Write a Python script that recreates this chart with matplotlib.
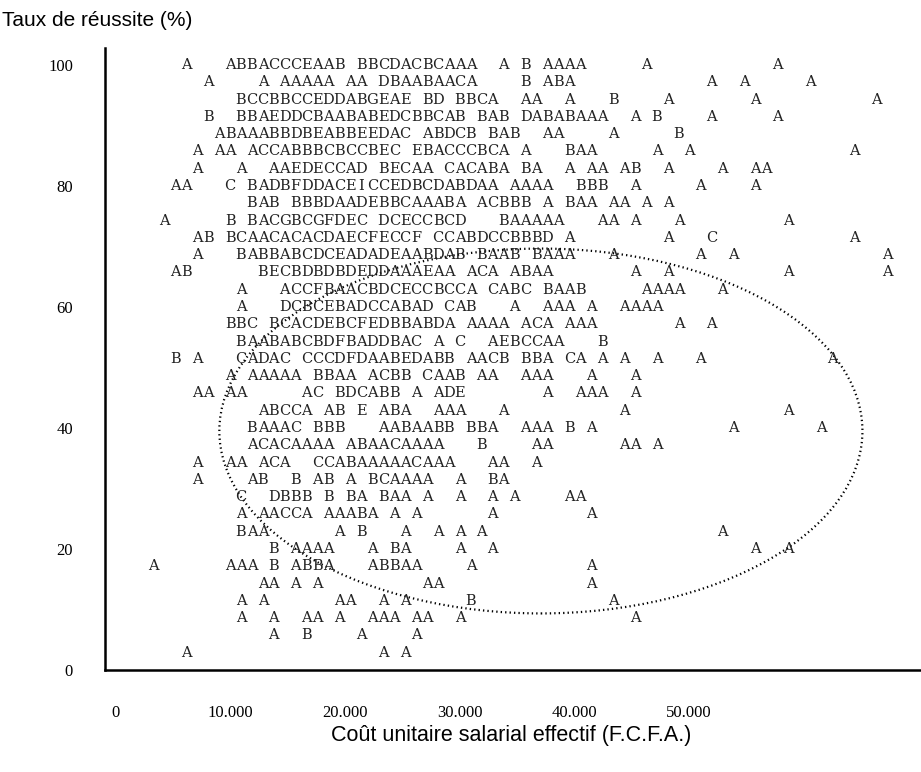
import matplotlib
matplotlib.use("Agg")
import matplotlib.pyplot as plt
from matplotlib.patches import Ellipse

# Line-printer style scatter: each row is one printed line, each letter = count of obs
ROWS = [
    "   A   ABBACCCEAAB BBCDACBCAAA  A B AAAA     A           A",
    "     A    A AAAAA AA DBAABAACA    B ABA            A  A     A",
    "        BCCBBCCEDDABGEAE BD BBCA  AA  A   B    A       A          A",
    "     B  BBAEDDCBAABABEDCBBCAB BAB DABABAAA  A B    A     A",
    "      ABAAABBDBEABBEEDAC ABDCB BAB  AA    A     B",
    "    A AA ACCABBBCBCCBEC EBACCCBCA A   BAA     A  A              A",
    "    A   A  AAEDECCAD BECAA CACABA BA  A AA AB  A    A  AA",
    "  AA   C BADBFDDACEICCEDBCDABDAA AAAA  BBB  A     A    A",
    "         BAB BBBDAADEBBCAAABA ACBBB A BAA AA A A",
    " A     B BACGBCGFDEC DCECCBCD   BAAAAA   AA A   A         A",
    "    AB BCAACACACDAECFECCF CCABDCCBBBD A        A   C            A",
    "    A   BABBABCDCEADADEAABDAB BAAB BAAA   A       A  A             A",
    "  AB      BECBDBDBDEDDAAAEAA ACA ABAA       A  A          A        A",
    "        A   ACCFBAACBDCECCBCCA CABC BAAB     AAAA   A",
    "        A   DCBCEBADCCABAD CAB   A  AAA A  AAAA",
    "       BBC BCACDEBCFEDBBABDA AAAA ACA AAA       A  A",
    "        BAABABCBDFBADDBAC A C  AEBCCAA   B",
    "  B A   CADAC CCCDFDAABEDABB AACB BBA CA A A  A   A           A",
    "       A AAAAA BBAA ACBB CAAB AA  AAA   A   A",
    "    AA AA     AC BDCABB A ADE       A  AAA  A",
    "          ABCCA AB E ABA  AAA   A          A              A",
    "         BAAAC BBB   AABAABB BBA  AAA B A            A       A",
    "         ACACAAAA ABAACAAAA   B    AA      AA A",
    "    A  AA ACA  CCABAAAAACAAA   AA  A",
    "    A    AB  B AB A BCAAAA  A  BA",
    "        C  DBBB B BA BAA A  A  A A    AA",
    "        A AACCA AAABA A A      A        A",
    "        BAA      A B   A  A A A                     A",
    "           B AAAA   A BA    A  A                       A  A",
    "A      AAA B ABBA   ABBAA    A          A",
    "          AA A A         AA             A",
    "        A A      AA  A A     B            A",
    "        A  A  AA A  AAA AA  A               A",
    "           A  B    A    A",
    "   A                 A A",
]

Y_TOP = 100            # value of the first printed line
ROW_STEP = 20 / 7      # y-units per printed line
X_FIRST = 3300         # F.C.F.A. value of the first print column
X_STEP = 955           # F.C.F.A. per print column

X_TICKS = [0, 10000, 20000, 30000, 40000, 50000]
X_TICK_LABELS = ["0", "10.000", "20.000", "30.000", "40.000", "50.000"]
Y_TICKS = [0, 20, 40, 60, 80, 100]
Y_TICK_LABELS = ["0", "20", "40", "60", "80", "100"]

fig = plt.figure(figsize=(9.21, 7.72), dpi=100)
ax = fig.add_axes([105 / 921, 102 / 772, 816 / 921, 622 / 772])
ax.set_xlim(-925, 70258)
ax.set_ylim(0, 102.8)

for i, row in enumerate(ROWS):
    y = Y_TOP - i * ROW_STEP
    for c, ch in enumerate(row):
        if ch != " ":
            ax.text(X_FIRST + c * X_STEP, y, ch, ha="center", va="center",
                    family="DejaVu Serif", fontsize=10.5, color="#222222")

ell = Ellipse((37100, 39.5), 56100, 60.3, fill=False, edgecolor="black",
              linewidth=1.6, linestyle=(0, (0.6, 1.4)))
ax.add_patch(ell)

for s in ["top", "right"]:
    ax.spines[s].set_visible(False)
for s in ["left", "bottom"]:
    ax.spines[s].set_linewidth(1.8)
    ax.spines[s].set_color("black")

ax.set_xticks(X_TICKS)
ax.set_xticklabels(X_TICK_LABELS, family="Liberation Serif", fontsize=12)
ax.set_yticks(Y_TICKS)
ax.set_yticklabels(Y_TICK_LABELS, family="Liberation Serif", fontsize=12)
ax.tick_params(axis="x", length=0, pad=25)
ax.tick_params(axis="y", length=0, pad=23)

fig.text(2 / 921, 1 - 20 / 772, "Taux de réussite (%)", ha="left", va="center",
         family="Liberation Sans", fontsize=15)
fig.text(511 / 921, 1 - 735 / 772, "Coût unitaire salarial effectif (F.C.F.A.)",
         ha="center", va="center", family="Liberation Sans", fontsize=15.5)

fig.savefig("out.png", dpi=100)
